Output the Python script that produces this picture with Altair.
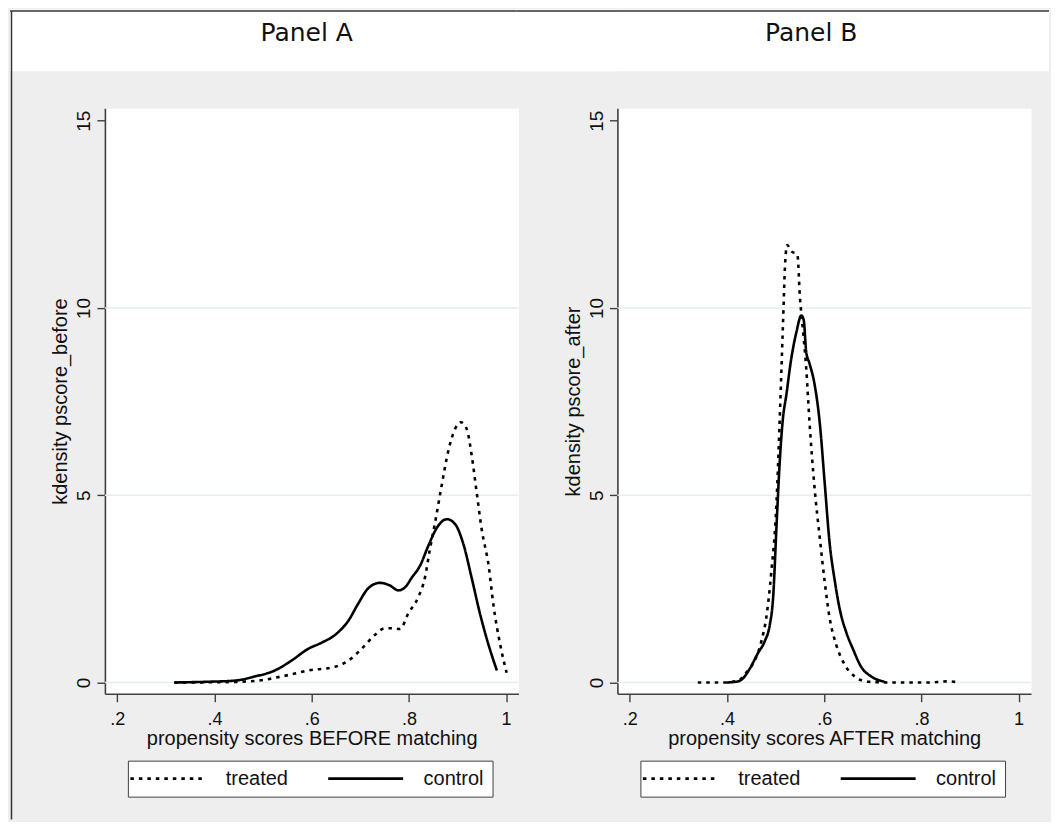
import altair as alt
import pandas as pd

# ---------------- data ----------------
panel_titles = ["Panel A", "Panel B"]
series_names = ["treated", "control"]
x_titles = ["propensity scores BEFORE matching", "propensity scores AFTER matching"]
y_titles = ["kdensity pscore_before", "kdensity pscore_after"]
x_ticks = [0.2, 0.4, 0.6, 0.8, 1.0]
y_ticks = [0, 5, 10, 15]
grid_values = [0, 5, 10]

a_treated_x = [0.318, 0.421, 0.490, 0.538, 0.593, 0.648, 0.675, 0.703, 0.730, 0.751,
               0.764, 0.782, 0.799, 0.819, 0.833, 0.843, 0.854, 0.867, 0.881, 0.895,
               0.907, 0.919, 0.929, 0.940, 0.950, 0.964, 0.974, 0.988, 1.001]
a_treated_y = [0.00, 0.01, 0.05, 0.16, 0.32, 0.42, 0.58, 0.90, 1.27, 1.45,
               1.45, 1.43, 1.85, 2.27, 2.80, 3.54, 4.28, 5.23, 6.18, 6.77,
               6.95, 6.77, 6.08, 5.02, 4.07, 3.12, 2.06, 1.00, 0.26]

a_control_x = [0.317, 0.387, 0.442, 0.483, 0.524, 0.558, 0.593, 0.620, 0.648, 0.675,
               0.696, 0.716, 0.740, 0.761, 0.778, 0.792, 0.806, 0.823, 0.840, 0.857,
               0.878, 0.895, 0.912, 0.929, 0.946, 0.964, 0.981]
a_control_y = [0.00, 0.02, 0.05, 0.16, 0.32, 0.58, 0.90, 1.06, 1.27, 1.64,
               2.11, 2.51, 2.66, 2.59, 2.46, 2.54, 2.80, 3.12, 3.65, 4.12,
               4.36, 4.23, 3.70, 2.80, 1.85, 1.00, 0.32]

b_treated_x = [0.340, 0.395, 0.423, 0.443, 0.457, 0.471, 0.481, 0.491, 0.502, 0.508,
               0.515, 0.520, 0.524, 0.532, 0.545, 0.550, 0.556, 0.563, 0.570, 0.580,
               0.591, 0.601, 0.611, 0.625, 0.642, 0.663, 0.690, 0.745, 0.813, 0.855,
               0.879]
b_treated_y = [0.00, 0.00, 0.05, 0.32, 0.58, 1.11, 1.74, 2.91, 4.81, 6.82,
               9.46, 11.26, 11.68, 11.52, 11.42, 10.31, 9.46, 8.40, 6.92, 5.23,
               3.86, 2.70, 1.74, 1.00, 0.48, 0.16, 0.02, 0.00, 0.00, 0.03,
               0.00]

b_control_x = [0.399, 0.423, 0.433, 0.447, 0.464, 0.478, 0.488, 0.495, 0.502, 0.508,
               0.515, 0.522, 0.532, 0.543, 0.553, 0.558, 0.563, 0.570, 0.580, 0.591,
               0.601, 0.611, 0.622, 0.632, 0.646, 0.659, 0.676, 0.697, 0.724]
b_control_y = [0.00, 0.03, 0.11, 0.37, 0.79, 1.11, 1.53, 2.27, 4.18, 5.76,
               7.03, 7.66, 8.62, 9.36, 9.80, 9.67, 8.83, 8.51, 7.98, 6.92,
               5.34, 3.75, 2.70, 1.96, 1.32, 0.90, 0.42, 0.16, 0.02]


def make_df(tx, ty, cx, cy):
    rows = [{"x": a, "y": b, "series": series_names[0]} for a, b in zip(tx, ty)]
    rows += [{"x": a, "y": b, "series": series_names[1]} for a, b in zip(cx, cy)]
    return pd.DataFrame(rows)


df_a = make_df(a_treated_x, a_treated_y, a_control_x, a_control_y)
df_b = make_df(b_treated_x, b_treated_y, b_control_x, b_control_y)

# ---------------- style ----------------
BG = "#eeeeee"
FONT = "Liberation Sans"
TXT = "#111111"
AX = "#404040"
FRAME = "#333333"
W, H = 414, 586
GAP = 99
x_scale = alt.Scale(domain=[0.1747, 1.0255], nice=False, zero=False)
y_scale = alt.Scale(domain=[-0.30, 15.33], nice=False, zero=False)
dash_scale = alt.Scale(domain=series_names, range=[[3.5, 5], [1, 0]])


def x_axis(title):
    return alt.Axis(values=x_ticks, title=title, grid=False,
                    labelExpr="datum.value >= 1 ? '1' : replace(format(datum.value, '.1f'), '0.', '.')",
                    labelFont=FONT, labelFontSize=18, labelColor=TXT,
                    labelBaseline="alphabetic", labelPadding=23, labelFlush=False,
                    labelOverlap=False, tickSize=8, tickColor=AX, tickWidth=1.4,
                    domainColor=AX, domainWidth=1.6,
                    titleFont=FONT, titleFontSize=20, titleFontWeight="normal",
                    titleColor=TXT, titleX=W / 2, titleY=45, titleBaseline="middle",
                    titleAlign="center")


def y_axis(title):
    return alt.Axis(values=y_ticks, title=title, grid=False,
                    labelFont=FONT, labelFontSize=19, labelColor=TXT,
                    labelAngle=270, labelAlign="center", labelBaseline="alphabetic",
                    labelPadding=7, labelFlush=False, labelOverlap=False,
                    tickSize=8, tickColor=AX, tickWidth=1.4,
                    domainColor=AX, domainWidth=1.6,
                    titleFont=FONT, titleFontSize=20, titleFontWeight="normal",
                    titleColor=TXT, titleAngle=270, titleX=-44, titleY=293,
                    titleBaseline="middle", titleAlign="center")


def legend():
    return alt.Legend(orient="none", legendX=23, legendY=653, direction="horizontal",
                      title=None, symbolType="M-5,0H5", symbolSize=225,
                      symbolStrokeWidth=2.6, symbolStrokeColor="black",
                      symbolFillColor="transparent", symbolOffset=22,
                      labelOffset=48, columnPadding=34, padding=8,
                      strokeColor=AX, fillColor="white",
                      labelFont=FONT, labelFontSize=20, labelColor=TXT)


ONE = alt.Data(values=[{}])


def decor_a():
    return [
        alt.Chart(ONE).mark_rect(color="white").encode(
            x=alt.value(-95), x2=alt.value(W + GAP), y=alt.value(-99), y2=alt.value(-37)),
        alt.Chart(ONE).mark_rule(color=FRAME, strokeWidth=1.5).encode(
            x=alt.value(-95), x2=alt.value(W + GAP), y=alt.value(-97.5)),
        alt.Chart(ONE).mark_rule(color=FRAME, strokeWidth=1.5).encode(
            x=alt.value(-93.5), y=alt.value(-97.5), y2=alt.value(712)),
        alt.Chart(ONE).mark_text(text=panel_titles[0], font="DejaVu Sans", fontSize=25,
                                 align="center", baseline="alphabetic", color=TXT
                                 ).encode(x=alt.value(202), y=alt.value(-67.5)),
    ]


def decor_b():
    return [
        alt.Chart(ONE).mark_rect(color="white").encode(
            x=alt.value(-GAP - 2), x2=alt.value(432), y=alt.value(-99), y2=alt.value(-37)),
        alt.Chart(ONE).mark_rule(color=FRAME, strokeWidth=1.5).encode(
            x=alt.value(-GAP - 2), x2=alt.value(432), y=alt.value(-97.5)),
        alt.Chart(ONE).mark_text(text=panel_titles[1], font="DejaVu Sans", fontSize=25,
                                 align="center", baseline="alphabetic", color=TXT
                                 ).encode(x=alt.value(194), y=alt.value(-67.5)),
    ]


def panel(df, xt, yt, decor):
    grid = alt.Chart(pd.DataFrame({"g": grid_values})).mark_rule(
        color="#e4edef", strokeWidth=1.4
    ).encode(y=alt.Y("g:Q", scale=y_scale, axis=y_axis(yt)))

    lines = alt.Chart(df).mark_line(
        color="black", strokeWidth=2.6, interpolate="monotone", strokeCap="butt"
    ).encode(
        x=alt.X("x:Q", scale=x_scale, axis=x_axis(xt)),
        y=alt.Y("y:Q", scale=y_scale, axis=y_axis(yt)),
        strokeDash=alt.StrokeDash("series:N", scale=dash_scale, legend=legend(),
                                  sort=series_names),
    )
    return alt.layer(*decor, grid, lines).properties(width=W, height=H)


pa = panel(df_a, x_titles[0], y_titles[0], decor_a())
pb = panel(df_b, x_titles[1], y_titles[1], decor_b())

chart = alt.hconcat(pa, pb, spacing=GAP, bounds="flush").resolve_scale(
    strokeDash="independent"
).resolve_legend(
    strokeDash="independent"
).properties(
    padding=0, background=BG
).configure_view(
    fill="white", stroke="transparent"
)

chart.save("out.html", embed_options={"renderer": "svg", "actions": False})
